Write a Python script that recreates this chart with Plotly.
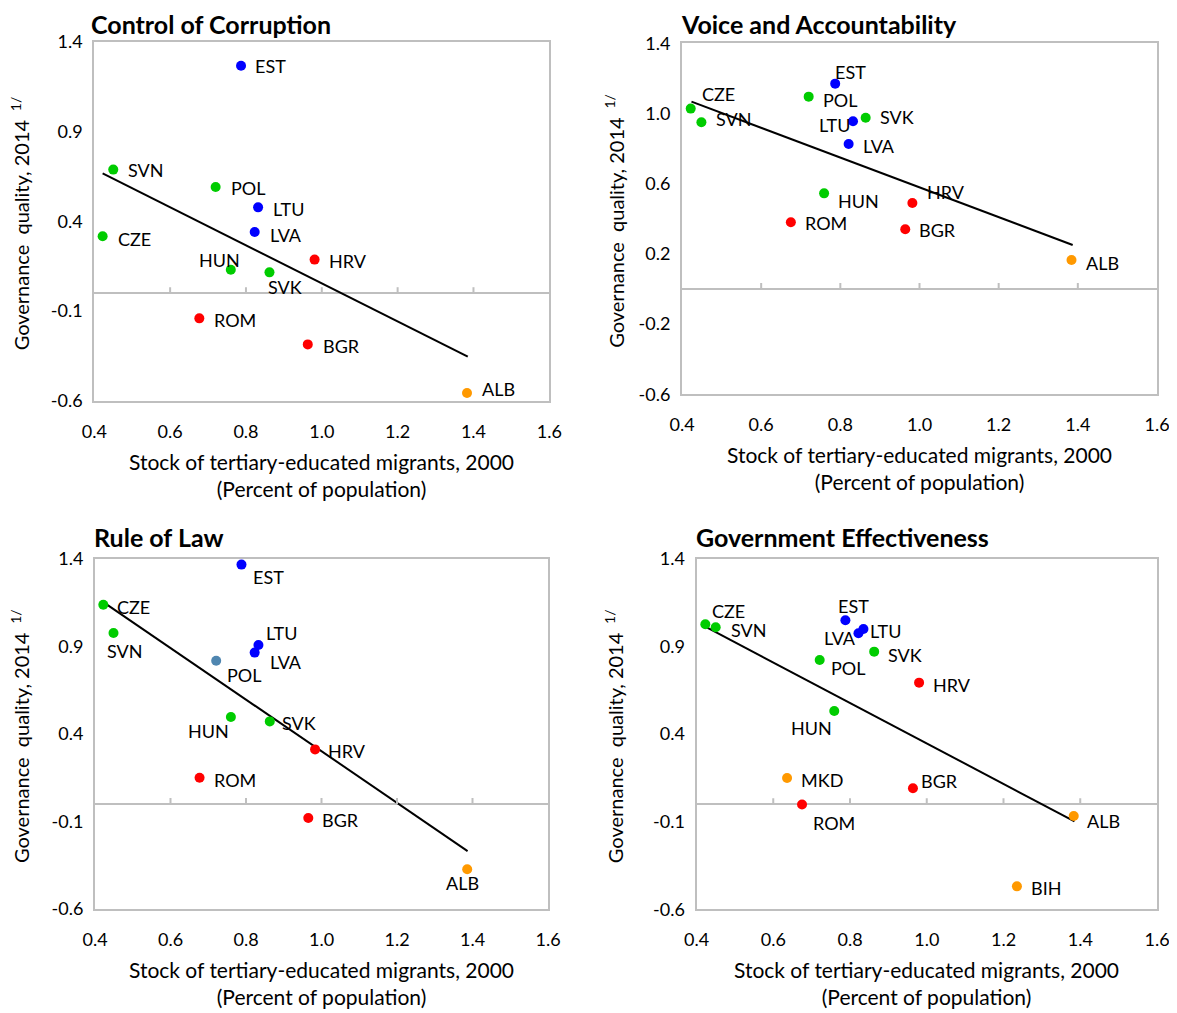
import plotly.graph_objects as go

# ---------------- data ----------------
titles = ["Control of Corruption", "Voice and Accountability", "Rule of Law", "Government Effectiveness"]

cc_countries = ["EST", "SVN", "POL", "LTU", "LVA", "CZE", "HRV", "HUN", "SVK", "ROM", "BGR", "ALB"]
cc_x = [0.787, 0.450, 0.720, 0.832, 0.823, 0.422, 0.981, 0.760, 0.862, 0.677, 0.963, 1.383]
cc_y = [1.266, 0.688, 0.591, 0.478, 0.341, 0.317, 0.187, 0.131, 0.116, -0.140, -0.285, -0.555]
cc_group = ["blue", "green", "green", "blue", "blue", "green", "red", "green", "green", "red", "red", "orange"]
cc_trend_x = [0.422, 1.385]
cc_trend_y = [0.667, -0.353]

va_countries = ["EST", "POL", "CZE", "SVN", "SVK", "LTU", "LVA", "HUN", "HRV", "ROM", "BGR", "ALB"]
va_x = [0.787, 0.720, 0.422, 0.449, 0.864, 0.832, 0.821, 0.759, 0.982, 0.675, 0.964, 1.384]
va_y = [1.170, 1.096, 1.028, 0.950, 0.976, 0.956, 0.826, 0.545, 0.490, 0.380, 0.340, 0.165]
va_group = ["blue", "green", "green", "green", "green", "blue", "blue", "green", "red", "red", "red", "orange"]
va_trend_x = [0.424, 1.387]
va_trend_y = [1.068, 0.251]

rl_countries = ["EST", "CZE", "SVN", "LTU", "LVA", "POL", "HUN", "SVK", "HRV", "ROM", "BGR", "ALB"]
rl_x = [0.788, 0.422, 0.449, 0.833, 0.823, 0.721, 0.760, 0.863, 0.983, 0.677, 0.965, 1.386]
rl_y = [1.368, 1.139, 0.977, 0.909, 0.865, 0.819, 0.497, 0.472, 0.312, 0.150, -0.080, -0.373]
rl_group = ["blue", "green", "green", "blue", "blue", "steel", "green", "green", "red", "red", "red", "orange"]
rl_trend_x = [0.422, 1.387]
rl_trend_y = [1.154, -0.269]

ge_countries = ["CZE", "SVN", "EST", "LTU", "LVA", "SVK", "POL", "HRV", "HUN", "MKD", "BGR", "ROM", "ALB", "BIH"]
ge_x = [0.423, 0.450, 0.788, 0.835, 0.822, 0.863, 0.721, 0.980, 0.759, 0.636, 0.964, 0.675, 1.383, 1.235]
ge_y = [1.027, 1.010, 1.050, 1.000, 0.976, 0.871, 0.823, 0.694, 0.532, 0.150, 0.091, -0.002, -0.067, -0.469]
ge_group = ["green", "green", "blue", "blue", "blue", "green", "green", "red", "green", "orange", "red", "red", "orange", "orange"]
ge_trend_x = [0.423, 1.385]
ge_trend_y = [1.014, -0.098]

x_ticks = [0.4, 0.6, 0.8, 1.0, 1.2, 1.4, 1.6]
y_ticks_a = [1.4, 0.9, 0.4, -0.1, -0.6]
y_ticks_b = [1.4, 1.0, 0.6, 0.2, -0.2, -0.6]

# ---------------- styles ----------------
PAGE_OFF = 8  # default body margin of the html page
W, H = 1177 - PAGE_OFF, 1013 - PAGE_OFF
FONT = "Lato, 'Open Sans', sans-serif"
COLORS = {"blue": "#0000FF", "green": "#00CC00", "red": "#FF0000",
          "orange": "#FF9900", "steel": "#4F86B0"}
FRAME = "#BFBFBF"

# plot rectangles in screen pixels: (left, top, right, bottom)
rects_screen = [(94.3, 41.7, 549.3, 401.0),
                (682.0, 43.3, 1157.0, 394.3),
                (95.0, 559.0, 548.0, 909.0),
                (696.5, 559.0, 1157.0, 909.3)]
rects = [tuple(v - PAGE_OFF for v in rc) for rc in rects_screen]
title_x_screen = [90, 680, 93, 695]
ytitle_x_screen = [20, 614, 20, 614]

# label offsets (pixels: dx, dy up-positive, anchor)
offsets = [
    {"EST": (12, 0, "left"), "SVN": (13, 0, "left"), "POL": (13, -1, "left"), "LTU": (13, -2, "left"),
     "LVA": (13, -3, "left"), "CZE": (13, -3, "left"), "HRV": (12, -1, "left"), "HUN": (-11, 10, "center"),
     "SVK": (16, -15, "center"), "ROM": (13, -2, "left"), "BGR": (13, -2, "left"), "ALB": (13, 4, "left")},
    {"EST": (15, 12, "center"), "POL": (12, -3, "left"), "CZE": (9, 15, "left"), "SVN": (13, 3, "left"),
     "SVK": (12, 1, "left"), "LTU": (-19, -4, "center"), "LVA": (12, -2, "left"), "HUN": (12, -8, "left"),
     "HRV": (13, 11, "left"), "ROM": (12, -1, "left"), "BGR": (12, -1, "left"), "ALB": (12, -3, "left")},
    {"EST": (10, -12, "left"), "CZE": (12, -2, "left"), "SVN": (11, -18, "center"), "LTU": (6, 12, "left"),
     "LVA": (13, -9, "left"), "POL": (9, -14, "left"), "HUN": (-22, -14, "center"), "SVK": (10, -2, "left"),
     "HRV": (11, -2, "left"), "ROM": (12, -2, "left"), "BGR": (12, -2, "left"), "ALB": (-5, -14, "center")},
    {"CZE": (5, 13, "left"), "SVN": (13, -3, "left"), "EST": (8, 14, "center"), "LTU": (5, -2, "left"),
     "LVA": (-18, -5, "center"), "SVK": (12, -3, "left"), "POL": (9, -8, "left"), "HRV": (12, -2, "left"),
     "HUN": (-23, -17, "center"), "MKD": (12, -2, "left"), "BGR": (6, 7, "left"), "ROM": (9, -18, "left"),
     "ALB": (11, -5, "left"), "BIH": (12, -2, "left")},
]

panels = [
    (cc_countries, cc_x, cc_y, cc_group, cc_trend_x, cc_trend_y, y_ticks_a),
    (va_countries, va_x, va_y, va_group, va_trend_x, va_trend_y, y_ticks_b),
    (rl_countries, rl_x, rl_y, rl_group, rl_trend_x, rl_trend_y, y_ticks_a),
    (ge_countries, ge_x, ge_y, ge_group, ge_trend_x, ge_trend_y, y_ticks_a),
]

fig = go.Figure()
layout = dict(width=W, height=H, margin=dict(l=0, r=0, t=0, b=0, autoexpand=False),
              paper_bgcolor="white", plot_bgcolor="white", showlegend=False,
              font=dict(family=FONT, size=17, color="#000000"))
annotations = []
shapes = []

for i, (names, xs, ys, grp, tx, ty, yt) in enumerate(panels):
    n = i + 1
    xa = "x" if n == 1 else f"x{n}"
    ya = "y" if n == 1 else f"y{n}"
    l, t, r, b = rects[i]
    layout["xaxis" if n == 1 else f"xaxis{n}"] = dict(
        domain=[l / W, r / W], anchor=ya, range=[0.4, 1.6], tickvals=x_ticks,
        ticktext=[f"{v:.1f}" for v in x_ticks], showgrid=False, zeroline=False,
        showline=True, mirror=True, linecolor=FRAME, linewidth=2, automargin=False,
        ticks="outside", ticklen=13, tickcolor="rgba(0,0,0,0)",
        tickfont=dict(family=FONT, size=18, color="#000"))
    layout["yaxis" if n == 1 else f"yaxis{n}"] = dict(
        domain=[1 - b / H, 1 - t / H], anchor=xa, range=[-0.6, 1.4], tickvals=yt,
        ticktext=[f"{v:.1f}" for v in yt], showgrid=False, zeroline=True,
        zerolinecolor=FRAME, zerolinewidth=2, showline=True, mirror=True, automargin=False,
        linecolor=FRAME, linewidth=2, ticks="outside", ticklen=6, tickcolor="rgba(0,0,0,0)",
        tickfont=dict(family=FONT, size=18, color="#000"))

    # trend line
    fig.add_trace(go.Scatter(x=tx, y=ty, mode="lines", xaxis=xa, yaxis=ya,
                             line=dict(color="black", width=2), hoverinfo="skip"))
    # points
    fig.add_trace(go.Scatter(x=xs, y=ys, mode="markers", xaxis=xa, yaxis=ya,
                             marker=dict(size=10, color=[COLORS[g] for g in grp]),
                             text=names, hoverinfo="text"))
    # labels
    for nm, xv, yv in zip(names, xs, ys):
        dx, dy, anc = offsets[i][nm]
        annotations.append(dict(x=xv, y=yv, xref=xa, yref=ya, text=nm, showarrow=False,
                                xanchor=anc, yanchor="middle", xshift=dx, yshift=dy,
                                font=dict(family=FONT, size=18, color="#000")))
    # x tick marks on the zero line
    for tv in x_ticks[1:-1]:
        shapes.append(dict(type="line", xref=xa, yref=ya, x0=tv, x1=tv,
                           ysizemode="pixel", yanchor=0, y0=0, y1=6,
                           line=dict(color=FRAME, width=2)))
    # panel title
    if i < 2:
        ty_paper, yanc = 1.0, "top"
    else:
        ty_paper, yanc = 1 - (t - 22) / H, "middle"
    annotations.append(dict(x=(title_x_screen[i] - PAGE_OFF) / W, y=ty_paper,
                            xref="paper", yref="paper", borderpad=0,
                            text=f"<b>{titles[i]}</b>", showarrow=False, xanchor="left",
                            yanchor=yanc, font=dict(family=FONT, size=25, color="#000")))
    # x axis title
    annotations.append(dict(x=((l + r) / 2) / W, y=1 - (b + 74) / H, xref="paper", yref="paper",
                            text="Stock of tertiary-educated migrants, 2000<br>(Percent of population)",
                            showarrow=False, xanchor="center", yanchor="middle",
                            font=dict(family=FONT, size=21, color="#000")))
    # y axis title
    annotations.append(dict(x=(ytitle_x_screen[i] - PAGE_OFF) / W, y=1 - ((t + b) / 2 + 2) / H,
                            xref="paper", yref="paper",
                            text="Governance  quality, 2014 <sup> 1/</sup>", textangle=-90,
                            showarrow=False, xanchor="center", yanchor="middle",
                            font=dict(family=FONT, size=20, color="#000")))

layout["annotations"] = annotations
layout["shapes"] = shapes
fig.update_layout(**layout)
fig.write_html("out.html")
